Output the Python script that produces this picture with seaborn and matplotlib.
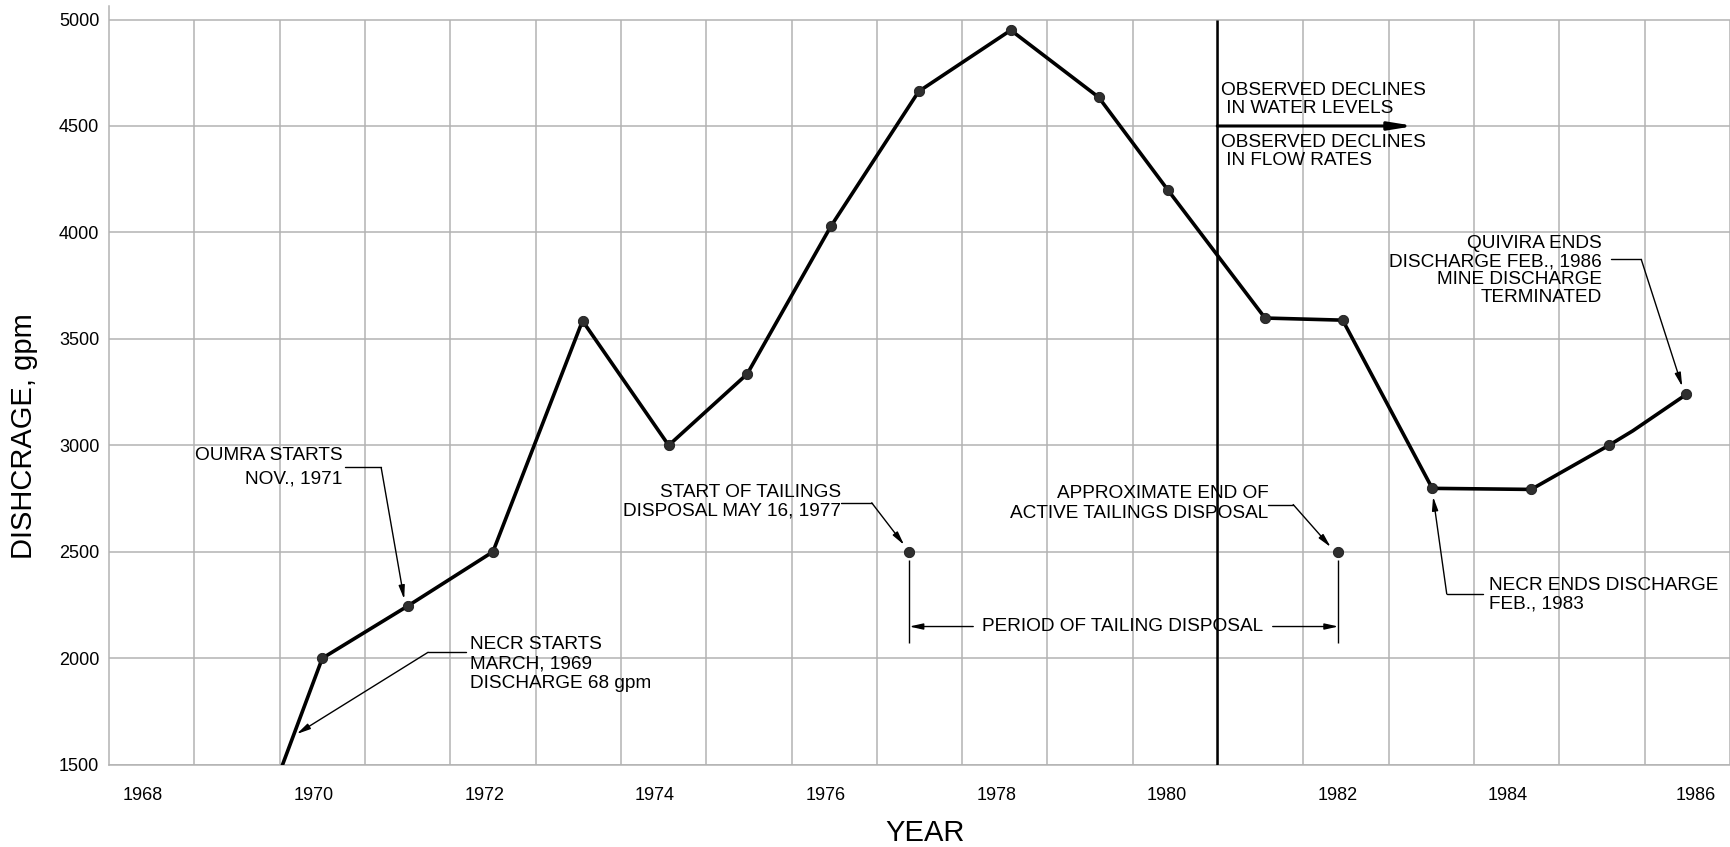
import numpy as np
import pandas as pd
import matplotlib
matplotlib.use("Agg")
import matplotlib.pyplot as plt
import seaborn as sns

# Mine discharge record (year, gpm); the first vertex is the 68 gpm start,
# one vertex near the end is a bend in the curve with no observation marker.
years = [1968.2, 1970.0, 1971.0, 1972.0, 1973.05, 1974.06, 1974.98, 1975.96,
         1976.99, 1978.07, 1979.1, 1979.91, 1981.05, 1981.96, 1983.01,
         1984.17, 1985.08, 1985.36, 1985.99]
discharge = [68, 2000, 2245, 2500, 3585, 3000, 3335, 4028,
             4662, 4950, 4635, 4200, 3598, 3588, 2798,
             2793, 3000, 3068, 3240]
observed = [False, True, True, True, True, True, True, True,
            True, True, True, True, True, True, True,
            True, True, False, True]

# Start and approximate end of tailings disposal
tailings_years = [1976.88, 1981.91]
tailings_level = [2500, 2500]

# Onset of observed declines
decline_year = 1980.49

tick_years = [1968, 1970, 1972, 1974, 1976, 1978, 1980, 1982, 1984, 1986]
tick_labels = [str(y) for y in tick_years]
y_ticks = [1500, 2000, 2500, 3000, 3500, 4000, 4500, 5000]

sns.set_style("white")
plt.rcParams["font.family"] = ["Liberation Sans", "DejaVu Sans"]
for key in ("text.color", "axes.labelcolor", "xtick.color", "ytick.color"):
    plt.rcParams[key] = "black"

GRID = "#b3b3b3"
FS = 13.7

fig = plt.figure(figsize=(17.30, 8.47), dpi=100)
ax = fig.add_axes([109 / 1730, 82.3 / 847, 1621 / 1730, 759 / 847])

df = pd.DataFrame({"year": years, "gpm": discharge, "observed": observed})
sns.lineplot(data=df, x="year", y="gpm", sort=False, estimator=None,
             color="black", lw=2.6, ax=ax, zorder=3)
sns.scatterplot(data=df[df["observed"]], x="year", y="gpm", s=55,
                color="#2f2f2f", edgecolor="#1a1a1a", linewidth=0.6,
                ax=ax, zorder=4)
tail = pd.DataFrame({"year": tailings_years, "gpm": tailings_level})
sns.scatterplot(data=tail, x="year", y="gpm", s=55, color="#2f2f2f",
                edgecolor="#1a1a1a", linewidth=0.6, ax=ax, zorder=4)

ax.set_xlim(1967.5, 1986.5)
ax.set_ylim(1500, 5065)

# grid: horizontal lines at the value ticks, vertical lines between years
ax.set_yticks(y_ticks)
ax.yaxis.grid(True, color=GRID, lw=1.1)
ax.vlines(np.arange(1968.5, 1987.0, 1.0), 1500, 5000, color=GRID, lw=1.1,
          zorder=0)

tick_pos = [y - 0.1 for y in tick_years]
tick_pos[-1] = tick_years[-1] + 0.1
ax.set_xticks(tick_pos, tick_labels)
ax.tick_params(axis="x", length=0, pad=16, labelsize=13)
ax.tick_params(axis="y", length=0, pad=7, labelsize=13)

for side in ("top", "right"):
    ax.spines[side].set_visible(False)
for side in ("left", "bottom"):
    ax.spines[side].set_color(GRID)
    ax.spines[side].set_linewidth(1.1)

ax.set_xlabel("YEAR", fontsize=21)
ax.set_ylabel("DISHCRAGE, gpm", fontsize=21)
ax.xaxis.set_label_coords(0.5033, -0.09)
ax.xaxis.label.set_va("center")
ax.yaxis.set_label_coords(-0.0524, 0.4326)
ax.yaxis.label.set_va("center")

# boundary of observed declines
ax.vlines(decline_year, 1500, 5000, color="black", lw=1.8, zorder=3)
ax.annotate("", xy=(1982.8, 4500), xytext=(decline_year, 4500),
            arrowprops=dict(arrowstyle="-|>,head_length=0.8,head_width=0.13",
                            mutation_scale=18, lw=2.2, color="black",
                            shrinkA=0, shrinkB=0), zorder=3)
ax.text(1980.53, 4624, "OBSERVED DECLINES\n IN WATER LEVELS", fontsize=FS,
        ha="left", va="center", linespacing=1.02)
ax.text(1980.53, 4380, "OBSERVED DECLINES\n IN FLOW RATES", fontsize=FS,
        ha="left", va="center", linespacing=1.02)

LEADER = dict(arrowstyle="-|>,head_length=0.45,head_width=0.1",
              mutation_scale=18, lw=1.0, color="black",
              shrinkA=0, shrinkB=0)


def leader(text_end, corner, tip):
    ax.plot([text_end[0], corner[0]], [text_end[1], corner[1]],
            color="black", lw=1.0, zorder=3)
    ax.annotate("", xy=tip, xytext=corner, arrowprops=LEADER, zorder=3)


ax.text(1970.24, 2895, "OUMRA STARTS\nNOV., 1971", fontsize=FS,
        ha="right", va="center", linespacing=1.5)
leader((1970.27, 2896), (1970.69, 2896), (1970.96, 2277))

ax.text(1971.73, 1973, "NECR STARTS\nMARCH, 1969\nDISCHARGE 68 gpm",
        fontsize=FS, ha="left", va="center", linespacing=1.2)
leader((1971.69, 2028), (1971.24, 2028), (1969.70, 1644))

ax.text(1976.08, 2734, "START OF TAILINGS\nDISPOSAL MAY 16, 1977",
        fontsize=FS, ha="right", va="center", linespacing=1.12)
leader((1976.08, 2730), (1976.44, 2730), (1976.82, 2532))

ax.text(1981.09, 2728, "APPROXIMATE END OF\nACTIVE TAILINGS DISPOSAL",
        fontsize=FS, ha="right", va="center", linespacing=1.2)
leader((1981.09, 2722), (1981.38, 2722), (1981.82, 2522))

ax.text(1985.0, 3820,
        "QUIVIRA ENDS\nDISCHARGE FEB., 1986\nMINE DISCHARGE\nTERMINATED",
        fontsize=FS, ha="right", va="center", linespacing=1.08)
leader((1985.11, 3873), (1985.46, 3873), (1985.94, 3276))

ax.text(1983.67, 2297, "NECR ENDS DISCHARGE\nFEB., 1983", fontsize=FS,
        ha="left", va="center", linespacing=1.12)
leader((1983.61, 2302), (1983.18, 2302), (1983.02, 2759))

# period of tailing disposal
ax.vlines(tailings_years, 2073, 2462, color="black", lw=1.0, zorder=3)
ax.text(1979.38, 2149, "PERIOD OF TAILING DISPOSAL", fontsize=FS,
        ha="center", va="center")
ax.annotate("", xy=(tailings_years[0], 2149), xytext=(1977.63, 2149),
            arrowprops=LEADER, zorder=3)
ax.annotate("", xy=(tailings_years[1], 2149), xytext=(1981.14, 2149),
            arrowprops=LEADER, zorder=3)

fig.savefig("out.png", dpi=100)
